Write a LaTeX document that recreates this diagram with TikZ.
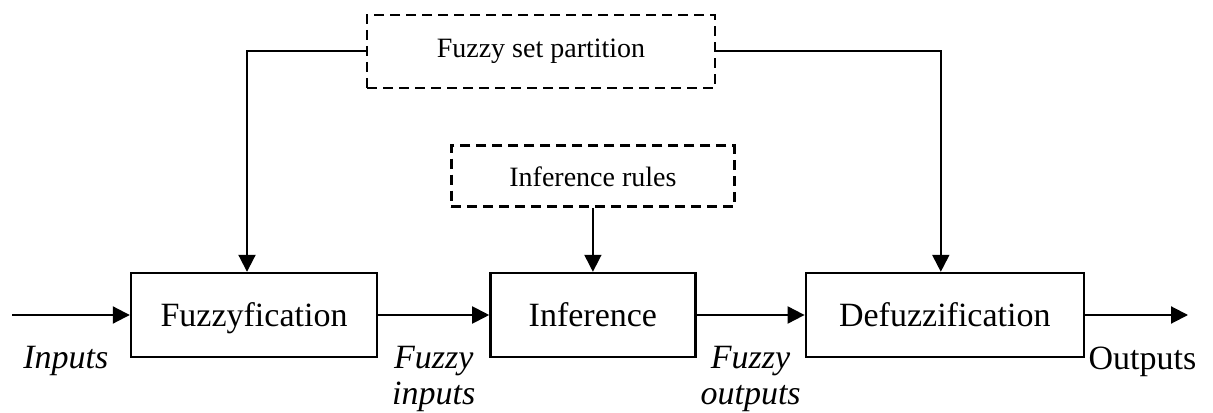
\documentclass[tikz,border=0pt]{standalone}
\usepackage{fontspec}
\setmainfont{Liberation Serif}
\usetikzlibrary{arrows.meta,positioning}

\tikzset{
  block/.style={draw, line width=1.2pt, minimum height=42pt, inner sep=0pt, text height=12pt, text depth=1pt, font=\fontsize{17}{20}\selectfont},
  dashblock/.style={draw, line width=1.2pt, dash pattern=on 5pt off 3pt, inner sep=0pt, font=\fontsize{14}{17}\selectfont},
  lbl/.style={align=center, font=\fontsize{17}{18}\selectfont\itshape},
}

\begin{document}
\begin{tikzpicture}[>={Triangle[length=8.5pt,width=8.5pt]}, line width=1pt, node distance=55pt]
    \useasboundingbox (0,0) rectangle (606.5pt,206pt);
    % Nodes {fuzz, infer, defuzz, rules, part}
    \node [block, minimum width=123pt]      (fuzz)   at (127pt,48.5pt)        {Fuzzyfication};
    \node [block, minimum width=102.5pt]    (infer)  [right=55.5pt of fuzz]   {Inference};
    \node [block, minimum width=139pt]      (defuzz) [right=54pt of infer]    {Defuzzification};
    \node [dashblock, minimum width=141.5pt, minimum height=30.5pt, text height=10pt, text depth=0pt]   (rules) [above=32pt of infer] {Inference rules};
    \node [dashblock, minimum width=174pt, minimum height=36.5pt, text height=10pt, text depth=3.5pt]   (part)  at (270.5pt,180.25pt) {Fuzzy set partition};
    \coordinate (start) at (6pt,48.5pt);
    \coordinate (end)   at (594pt,48.5pt);

    % Paths
    \path [->] (start)  edge node [lbl, below=12pt, xshift=-2.5pt] {Inputs} (fuzz);
    \path [->] (fuzz)   edge node [lbl, below=12pt] {Fuzzy\\inputs}   (infer);
    \path [->] (infer)  edge node [lbl, below=12pt] {Fuzzy\\outputs}  (defuzz);
    \path [->] (defuzz) edge node [lbl, below=12pt, xshift=3pt, font=\fontsize{17}{18}\selectfont] {Outputs} (end);
    \path [->, line width=0.8pt] (rules) edge (infer);
    \draw [->] (part.west) -| ([xshift=-3.5pt]fuzz.north);
    \draw [->] (part.east) -| ([xshift=-2pt]defuzz.north);

\end{tikzpicture}
\end{document}
